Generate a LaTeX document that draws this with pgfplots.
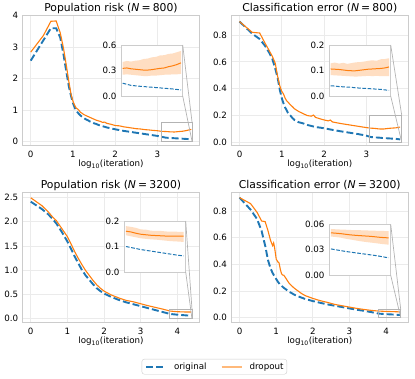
\documentclass[border=0pt]{standalone}
\usepackage{fontspec}
\setmainfont{DejaVu Sans}
\usepackage{pgfplots}
\pgfplotsset{compat=1.18}
\usepackage{pgfplotstable}

\definecolor{tabblue}{HTML}{1F77B4}
\definecolor{taborange}{HTML}{FF7F0E}
\definecolor{gridc}{HTML}{EBEBEB}
\definecolor{spinec}{HTML}{CCCCCC}
\definecolor{connc}{HTML}{B3B3B3}

\newcommand\tickfont{\fontsize{8.7}{10}\selectfont}
\newcommand\titlefont{\fontsize{10.8}{12}\selectfont}

% population risk, N = 800
\pgfplotstableread{
x     orig   drop
0.000 2.57   2.84
0.301 3.22   3.37
0.477 3.60   3.82
0.602 3.60   3.83
0.699 3.30   3.45
0.778 2.75   2.95
0.845 2.20   2.40
0.903 1.75   1.90
0.954 1.45   1.50
1.000 1.22   1.28
1.041 1.08   1.15
1.079 0.98   1.06
1.114 0.92   1.03
1.146 0.87   0.99
1.176 0.83   0.93
1.204 0.80   0.91
1.255 0.75   0.86
1.301 0.71   0.83
1.350 0.68   0.80
1.400 0.64   0.77
1.450 0.61   0.74
1.500 0.58   0.71
1.550 0.56   0.68
1.600 0.53   0.66
1.650 0.51   0.64
1.700 0.49   0.61
1.750 0.47   0.62
1.800 0.45   0.58
1.900 0.42   0.55
2.000 0.39   0.51
2.100 0.365  0.50
2.200 0.34   0.47
2.300 0.32   0.45
2.400 0.30   0.43
2.500 0.28   0.41
2.600 0.26   0.40
2.700 0.24   0.38
2.800 0.22   0.37
2.900 0.20   0.355
3.000 0.18   0.345
3.100 0.15   0.325
3.200 0.125  0.32
3.300 0.115  0.31
3.400 0.107  0.305
3.500 0.099  0.318
3.600 0.091  0.33
3.700 0.083  0.355
3.800 0.072  0.39
}\riskA
\pgfplotstableread{
x    orig  drop
3.10 0.150 0.325
3.15 0.138 0.330
3.20 0.125 0.320
3.25 0.120 0.315
3.30 0.115 0.310
3.35 0.111 0.305
3.40 0.107 0.305
3.45 0.103 0.310
3.50 0.099 0.318
3.55 0.095 0.325
3.60 0.091 0.330
3.65 0.087 0.345
3.70 0.083 0.355
3.75 0.077 0.370
3.80 0.072 0.390
}\riskAin

% classification error, N = 800
\pgfplotstableread{
x     orig   drop
0.000 0.900  0.900
0.301 0.810  0.820
0.477 0.770  0.815
0.602 0.720  0.740
0.699 0.670  0.686
0.778 0.620  0.640
0.845 0.550  0.590
0.903 0.480  0.490
0.954 0.390  0.420
1.000 0.330  0.380
1.041 0.290  0.360
1.079 0.260  0.330
1.114 0.240  0.310
1.146 0.220  0.300
1.204 0.200  0.280
1.255 0.180  0.265
1.301 0.167  0.250
1.400 0.150  0.230
1.500 0.142  0.215
1.600 0.130  0.200
1.700 0.122  0.195
1.750 0.118  0.203
1.800 0.114  0.186
1.900 0.110  0.176
2.000 0.105  0.167
2.100 0.099  0.160
2.150 0.096  0.166
2.200 0.093  0.152
2.400 0.082  0.140
2.600 0.072  0.130
2.800 0.062  0.120
3.000 0.050  0.110
3.100 0.040  0.106
3.200 0.037  0.104
3.300 0.035  0.100
3.400 0.032  0.099
3.500 0.030  0.103
3.600 0.028  0.106
3.700 0.026  0.108
3.800 0.022  0.114
}\errA
\pgfplotstableread{
x    orig  drop
3.10 0.040 0.106
3.15 0.039 0.105
3.20 0.037 0.104
3.25 0.036 0.102
3.30 0.035 0.100
3.35 0.034 0.099
3.40 0.032 0.099
3.45 0.031 0.101
3.50 0.030 0.103
3.55 0.029 0.105
3.60 0.028 0.106
3.65 0.027 0.107
3.70 0.026 0.108
3.75 0.024 0.110
3.80 0.022 0.114
}\errAin

% population risk, N = 3200
\pgfplotstableread{
x     orig   drop
0.000 2.41   2.49
0.301 2.26   2.33
0.477 2.15   2.20
0.602 2.05   2.09
0.699 1.96   2.02
0.845 1.79   1.86
1.000 1.59   1.69
1.100 1.44   1.54
1.200 1.28   1.38
1.300 1.14   1.24
1.400 1.00   1.11
1.500 0.89   0.99
1.600 0.80   0.89
1.700 0.71   0.79
1.800 0.63   0.70
1.900 0.57   0.63
2.000 0.52   0.57
2.200 0.45   0.49
2.400 0.39   0.43
2.600 0.34   0.38
2.800 0.30   0.35
3.000 0.26   0.31
3.200 0.22   0.27
3.400 0.18   0.235
3.600 0.14   0.20
3.800 0.100  0.160
4.000 0.085  0.146
4.200 0.073  0.141
4.380 0.063  0.141
}\riskB
\pgfplotstableread{
x    orig  drop
3.80 0.100 0.160
3.85 0.096 0.157
3.90 0.092 0.152
3.95 0.088 0.148
4.00 0.085 0.146
4.05 0.082 0.144
4.10 0.079 0.143
4.15 0.076 0.142
4.20 0.073 0.141
4.25 0.070 0.141
4.30 0.067 0.141
4.38 0.063 0.141
}\riskBin

% classification error, N = 3200
\pgfplotstableread{
x     orig   drop
0.000 0.900  0.900
0.301 0.810  0.855
0.477 0.740  0.790
0.602 0.650  0.725
0.699 0.540  0.720
0.778 0.430  0.650
0.845 0.370  0.580
0.903 0.335  0.540
0.930 0.322  0.560
0.954 0.310  0.530
1.000 0.290  0.440
1.041 0.272  0.420
1.079 0.258  0.410
1.114 0.248  0.360
1.146 0.240  0.330
1.176 0.232  0.320
1.204 0.225  0.320
1.255 0.215  0.300
1.301 0.205  0.280
1.350 0.195  0.260
1.400 0.188  0.245
1.500 0.172  0.220
1.600 0.160  0.200
1.700 0.150  0.180
1.800 0.140  0.165
2.000 0.125  0.145
2.200 0.112  0.128
2.400 0.100  0.115
2.600 0.090  0.100
2.800 0.080  0.090
3.000 0.070  0.080
3.200 0.060  0.070
3.400 0.052  0.062
3.600 0.042  0.055
3.800 0.031  0.050
4.000 0.027  0.0475
4.200 0.024  0.0458
4.380 0.0205 0.044
}\errB
\pgfplotstableread{
x    orig   drop
3.80 0.0310 0.0500
3.85 0.0300 0.0495
3.90 0.0290 0.0490
3.95 0.0280 0.0482
4.00 0.0272 0.0475
4.05 0.0264 0.0470
4.10 0.0256 0.0466
4.15 0.0248 0.0462
4.20 0.0240 0.0458
4.25 0.0232 0.0452
4.30 0.0222 0.0446
4.38 0.0205 0.0440
}\errBin

\tikzset{
  orig/.style={tabblue, line width=1.9pt, dash pattern=on 7pt off 3pt},
  drop/.style={taborange, line width=1.1pt},
  origin/.style={tabblue, line width=1pt, dash pattern=on 3.7pt off 1.6pt},
  dropin/.style={taborange, line width=1pt},
  band/.style={fill=taborange, fill opacity=0.25, draw=none},
  conn/.style={draw=connc, line width=0.7pt},
}
\pgfplotsset{
  panel/.style={scale only axis, width=176.6pt, height=130.4pt, anchor=north west,
    grid=major, major grid style={draw=gridc, line width=0.8pt},
    axis line style={draw=spinec, line width=0.8pt},
    major tick length=0pt,
    ticklabel style={font=\tickfont},
    /pgf/number format/assume math mode=true,
    xticklabel style={inner sep=0pt, yshift=-5pt},
    yticklabel style={inner sep=0pt, xshift=-4.4pt},
    xlabel={log\textsubscript{10}(iteration)},
    xlabel style={font=\tickfont, at={(axis description cs:0.5,0)}, anchor=north, inner sep=0pt, yshift=-14.3pt},
    every axis title/.style={at={(axis description cs:0.5,1)}, anchor=base, inner sep=0pt, font=\titlefont, yshift=4pt},
    scaled y ticks=false},
  inset/.style={scale only axis, width=61.7pt, height=51pt, anchor=north west,
    axis background/.style={fill=white},
    axis line style={draw=spinec, line width=0.8pt},
    xtick=\empty, major tick length=0pt,
    ticklabel style={font=\tickfont},
    /pgf/number format/assume math mode=true,
    yticklabel style={inner sep=0pt, xshift=-4.4pt},
    scaled y ticks=false},
  dec1/.style={yticklabel style={/pgf/number format/fixed, /pgf/number format/fixed zerofill, /pgf/number format/precision=1}},
  dec2/.style={yticklabel style={/pgf/number format/fixed, /pgf/number format/fixed zerofill, /pgf/number format/precision=2}},
}

\begin{document}
\begin{tikzpicture}
\useasboundingbox (0,0) rectangle (415pt,-379pt);

% ---- top left
\begin{axis}[panel, at={(22.7pt,-15.3pt)},
  title={Population risk (\textit{N}\hspace{0.2em}=\hspace{0.2em}800)},
  xmin=-0.19, xmax=3.99, ymin=-0.13, ymax=4.01,
  xtick={0,1,2,3}, ytick={0,1,2,3,4}]
\addplot[orig] table[x=x, y=orig] {\riskA};
\addplot[drop] table[x=x, y=drop] {\riskA};
\draw[conn] (axis cs:3.08,0) rectangle (axis cs:3.82,0.6);
\coordinate (rA1) at (axis cs:3.82,0.6);
\coordinate (rA2) at (axis cs:3.82,0);
\end{axis}
\begin{axis}[inset, dec1, name=iA, at={(121pt,-45pt)},
  xmin=3.08, xmax=3.82, ymin=0, ymax=0.6, ytick={0,0.3,0.6}]
\addplot[band] coordinates {(3.10,0.400) (3.15,0.412) (3.20,0.405) (3.25,0.415)
  (3.30,0.420) (3.35,0.435) (3.40,0.440) (3.45,0.455) (3.50,0.460) (3.55,0.478)
  (3.60,0.480) (3.65,0.495) (3.70,0.500) (3.75,0.515) (3.80,0.530)
  (3.80,0.260) (3.75,0.255) (3.70,0.255) (3.65,0.250) (3.60,0.250) (3.55,0.245)
  (3.50,0.240) (3.45,0.240) (3.40,0.235) (3.35,0.235) (3.30,0.240) (3.25,0.245)
  (3.20,0.250) (3.15,0.255) (3.10,0.250)};
\addplot[origin] table[x=x, y=orig] {\riskAin};
\addplot[dropin] table[x=x, y=drop] {\riskAin};
\end{axis}
\draw[conn] (iA.north east) -- (rA1);
\draw[conn] (iA.south east) -- (rA2);

% ---- top right
\begin{axis}[panel, dec1, at={(231.5pt,-15.3pt)},
  title={Classification error (\textit{N}\hspace{0.2em}=\hspace{0.2em}800)},
  xmin=-0.19, xmax=3.99, ymin=-0.025, ymax=0.947,
  xtick={0,1,2,3}, ytick={0,0.2,0.4,0.6,0.8}]
\addplot[orig] table[x=x, y=orig] {\errA};
\addplot[drop] table[x=x, y=drop] {\errA};
\draw[conn] (axis cs:3.08,0) rectangle (axis cs:3.84,0.2);
\coordinate (rB1) at (axis cs:3.84,0.2);
\coordinate (rB2) at (axis cs:3.84,0);
\end{axis}
\begin{axis}[inset, dec1, name=iB, at={(329pt,-45pt)},
  xmin=3.08, xmax=3.82, ymin=0, ymax=0.2, ytick={0,0.1,0.2}]
\addplot[band] coordinates {(3.10,0.128) (3.15,0.131) (3.20,0.127) (3.25,0.130)
  (3.30,0.126) (3.35,0.129) (3.40,0.132) (3.45,0.133) (3.50,0.135) (3.55,0.138)
  (3.60,0.140) (3.65,0.138) (3.70,0.144) (3.75,0.145) (3.80,0.148)
  (3.80,0.078) (3.75,0.078) (3.70,0.078) (3.65,0.079) (3.60,0.078) (3.55,0.079)
  (3.50,0.078) (3.45,0.077) (3.40,0.076) (3.35,0.077) (3.30,0.078) (3.25,0.079)
  (3.20,0.080) (3.15,0.081) (3.10,0.082)};
\addplot[origin] table[x=x, y=orig] {\errAin};
\addplot[dropin] table[x=x, y=drop] {\errAin};
\end{axis}
\draw[conn] (iB.north east) -- (rB1);
\draw[conn] (iB.south east) -- (rB2);

% ---- bottom left (carries the shared legend)
\begin{axis}[panel, dec1, at={(22.7pt,-192.3pt)},
  title={Population risk (\textit{N}\hspace{0.2em}=\hspace{0.2em}3200)},
  xmin=-0.22, xmax=4.6, ymin=-0.08, ymax=2.603,
  xtick={0,1,2,3,4}, ytick={0,0.5,1,1.5,2,2.5},
  legend columns=2,
  legend style={at={(1.0852,-0.3374)}, anchor=center, draw=spinec, fill=white,
    rounded corners=2.5pt, font=\tickfont, inner xsep=3.3pt, inner ysep=3.5pt,
    nodes={inner sep=0pt},
    /tikz/every odd column/.style={column sep=7pt},
    /tikz/every even column/.style={column sep=14pt}},
  legend image code/.code={\draw[#1] (0pt,0pt) -- (20pt,0pt);}]
\addplot[orig, forget plot] table[x=x, y=orig] {\riskB};
\addplot[drop, forget plot] table[x=x, y=drop] {\riskB};
\addlegendimage{orig}
\addlegendentry{original}
\addlegendimage{taborange!55, line width=1.9pt}
\addlegendentry{dropout}
\draw[conn] (axis cs:3.78,0) rectangle (axis cs:4.4,0.2);
\coordinate (rC1) at (axis cs:4.4,0.2);
\coordinate (rC2) at (axis cs:4.4,0);
\end{axis}
\begin{axis}[inset, dec1, name=iC, at={(124pt,-221pt)},
  xmin=3.78, xmax=4.4, ymin=0, ymax=0.2, ytick={0,0.1,0.2}]
\addplot[band] coordinates {(3.80,0.180) (3.85,0.177) (3.90,0.173) (3.95,0.167)
  (4.00,0.166) (4.05,0.162) (4.10,0.161) (4.15,0.161) (4.20,0.159) (4.25,0.158)
  (4.30,0.158) (4.38,0.157)
  (4.38,0.118) (4.30,0.120) (4.25,0.121) (4.20,0.123) (4.15,0.125) (4.10,0.127)
  (4.05,0.128) (4.00,0.130) (3.95,0.132) (3.90,0.136) (3.85,0.140) (3.80,0.144)};
\addplot[origin] table[x=x, y=orig] {\riskBin};
\addplot[dropin] table[x=x, y=drop] {\riskBin};
\end{axis}
\draw[conn] (iC.north east) -- (rC1);
\draw[conn] (iC.south east) -- (rC2);

% ---- bottom right
\begin{axis}[panel, dec1, at={(231.5pt,-192.3pt)},
  title={Classification error (\textit{N}\hspace{0.2em}=\hspace{0.2em}3200)},
  xmin=-0.22, xmax=4.6, ymin=-0.037, ymax=0.94,
  xtick={0,1,2,3,4}, ytick={0,0.2,0.4,0.6,0.8}]
\addplot[orig] table[x=x, y=orig] {\errB};
\addplot[drop] table[x=x, y=drop] {\errB};
\draw[conn] (axis cs:3.78,0) rectangle (axis cs:4.4,0.06);
\coordinate (rD1) at (axis cs:4.4,0.06);
\coordinate (rD2) at (axis cs:4.4,0);
\end{axis}
\begin{axis}[inset, dec2, name=iD, at={(329pt,-224.3pt)},
  xmin=3.78, xmax=4.4, ymin=0, ymax=0.06, ytick={0,0.03,0.06}]
\addplot[band] coordinates {(3.80,0.0545) (3.85,0.0541) (3.90,0.0538) (3.95,0.0536)
  (4.00,0.0533) (4.05,0.0531) (4.10,0.0530) (4.15,0.0528) (4.20,0.0526) (4.25,0.0524)
  (4.30,0.0522) (4.38,0.0520)
  (4.38,0.0360) (4.30,0.0370) (4.25,0.0378) (4.20,0.0385) (4.15,0.0392) (4.10,0.0400)
  (4.05,0.0410) (4.00,0.0420) (3.95,0.0430) (3.90,0.0442) (3.85,0.0450) (3.80,0.0456)};
\addplot[origin] table[x=x, y=orig] {\errBin};
\addplot[dropin] table[x=x, y=drop] {\errBin};
\end{axis}
\draw[conn] (iD.north east) -- (rD1);
\draw[conn] (iD.south east) -- (rD2);
\end{tikzpicture}
\end{document}
